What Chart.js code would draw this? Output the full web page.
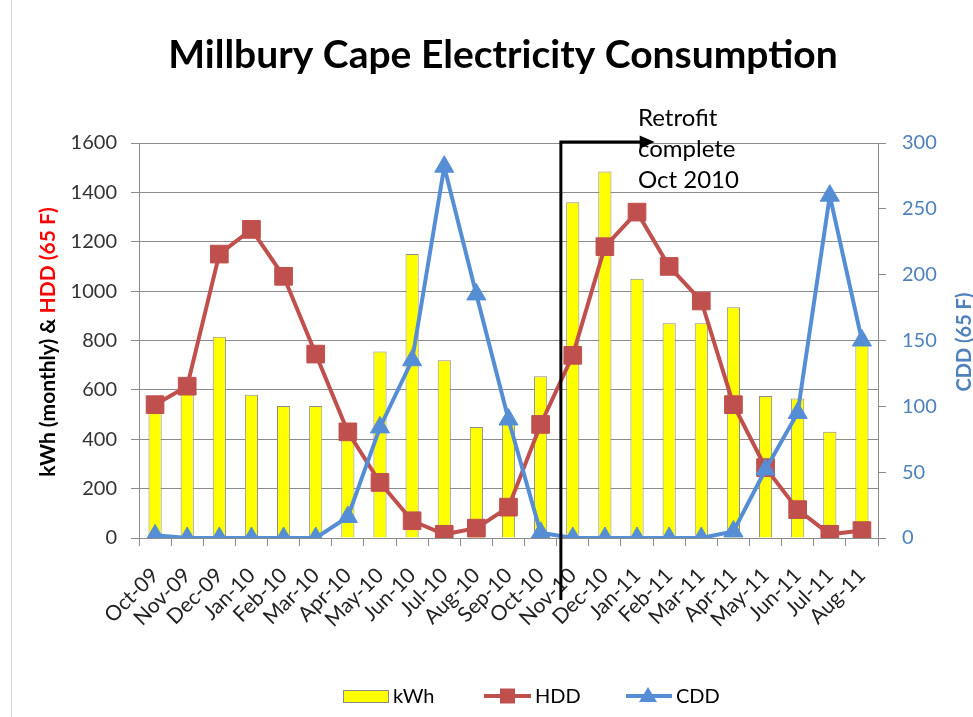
<!DOCTYPE html>
<html lang="en">
<head>
    <meta charset="UTF-8">
    <title>Millbury Cape Electricity Consumption</title>
    <script src="https://cdn.jsdelivr.net/npm/chart.js"></script>
    <style>
        html, body { margin: 0; padding: 0; background: #fff; }
        #chart { display: block; }
    </style>
</head>
<body>
    <canvas id="chart" width="973" height="717"></canvas>

    <script>
        // Monthly data, Oct 2009 - Aug 2011
        const months = ['Oct-09', 'Nov-09', 'Dec-09', 'Jan-10', 'Feb-10', 'Mar-10', 'Apr-10', 'May-10',
                        'Jun-10', 'Jul-10', 'Aug-10', 'Sep-10', 'Oct-10', 'Nov-10', 'Dec-10', 'Jan-11',
                        'Feb-11', 'Mar-11', 'Apr-11', 'May-11', 'Jun-11', 'Jul-11', 'Aug-11'];
        const kwh = [530, 590, 815, 580, 535, 535, 420, 755, 1150, 720, 450, 480,
                     655, 1360, 1485, 1050, 870, 870, 935, 575, 565, 430, 790];
        const hdd = [540, 615, 1150, 1250, 1060, 745, 430, 225, 70, 15, 40, 125,
                     460, 740, 1180, 1320, 1100, 960, 540, 285, 115, 15, 30];
        const cdd = [2, 0, 0, 0, 0, 0, 16, 84, 135, 282, 185, 90,
                     4, 0, 0, 0, 0, 0, 5, 52, 95, 260, 150];

        // axis ticks
        const leftTicks = [0, 200, 400, 600, 800, 1000, 1200, 1400, 1600];
        const rightTicks = [0, 50, 100, 150, 200, 250, 300];

        // retrofit marker sits between Oct-10 and Nov-10
        const retrofitAt = 12.63;
        const retrofitText = ['Retrofit', 'complete', 'Oct 2010'];

        const FONT = 'Lato, "Open Sans", sans-serif';
        const GRID = '#8c8c8c';
        const RED = '#c0504d';
        const BLUE = '#558ed5';

        function setTicks(list) {
            return function (scale) {
                scale.ticks = list.map(v => ({ value: v }));
            };
        }

        // titles, retrofit arrow, legend and frame line
        const decorations = {
            id: 'decorations',
            beforeDraw(chart) {
                const ctx = chart.ctx;
                ctx.save();
                ctx.strokeStyle = '#d4d4d4';
                ctx.lineWidth = 1;
                ctx.beginPath();
                ctx.moveTo(11.5, 0);
                ctx.lineTo(11.5, 717);
                ctx.stroke();
                ctx.restore();
            },
            afterDraw(chart) {
                const ctx = chart.ctx;
                const area = chart.chartArea;
                const x = chart.scales.x;

                ctx.save();

                // main title
                ctx.fillStyle = '#000';
                ctx.font = 'bold 39px ' + FONT;
                ctx.textAlign = 'center';
                ctx.textBaseline = 'alphabetic';
                ctx.fillText('Millbury Cape Electricity Consumption', 503, 68);

                // left axis title, two colours
                ctx.save();
                ctx.translate(55, 342);
                ctx.rotate(-Math.PI / 2);
                ctx.font = 'bold 21px ' + FONT;
                const partA = 'kWh (monthly) & ';
                const partB = 'HDD (65 F)';
                const wA = ctx.measureText(partA).width;
                const wB = ctx.measureText(partB).width;
                ctx.textAlign = 'left';
                ctx.fillStyle = '#000';
                ctx.fillText(partA, -(wA + wB) / 2, 0);
                ctx.fillStyle = '#ff0000';
                ctx.fillText(partB, -(wA + wB) / 2 + wA, 0);
                ctx.restore();

                // right axis title
                ctx.save();
                ctx.translate(971, 342);
                ctx.rotate(-Math.PI / 2);
                ctx.font = 'bold 20px ' + FONT;
                ctx.textAlign = 'center';
                ctx.fillStyle = '#4f81bd';
                ctx.fillText('CDD (65 F)', 0, 0);
                ctx.restore();

                // retrofit line and arrow
                const lx = x.getPixelForValue(retrofitAt);
                const ly = area.top - 1;
                const tipX = x.getPixelForValue(15.55);
                ctx.strokeStyle = '#000';
                ctx.lineWidth = 3;
                ctx.beginPath();
                ctx.moveTo(lx, area.bottom + 62);
                ctx.lineTo(lx, ly);
                ctx.lineTo(tipX - 12, ly);
                ctx.stroke();
                ctx.fillStyle = '#000';
                ctx.beginPath();
                ctx.moveTo(tipX, ly);
                ctx.lineTo(tipX - 15, ly - 6.5);
                ctx.lineTo(tipX - 15, ly + 6.5);
                ctx.closePath();
                ctx.fill();

                ctx.font = '24px ' + FONT;
                ctx.textAlign = 'left';
                retrofitText.forEach((t, i) => ctx.fillText(t, 638, 126 + i * 31));

                // legend
                const ly2 = 696;
                ctx.font = '20px ' + FONT;
                ctx.textBaseline = 'middle';
                ctx.fillStyle = '#ffff00';
                ctx.fillRect(343, ly2 - 6, 45, 12);
                ctx.strokeStyle = GRID;
                ctx.lineWidth = 1;
                ctx.strokeRect(343.5, ly2 - 5.5, 45, 12);
                ctx.fillStyle = '#000';
                ctx.fillText('kWh', 393, ly2 + 1);

                ctx.strokeStyle = RED;
                ctx.lineWidth = 4;
                ctx.beginPath();
                ctx.moveTo(484, ly2);
                ctx.lineTo(531, ly2);
                ctx.stroke();
                ctx.fillStyle = RED;
                ctx.fillRect(500, ly2 - 7.5, 15, 15);
                ctx.fillStyle = '#000';
                ctx.fillText('HDD', 535, ly2 + 1);

                ctx.strokeStyle = BLUE;
                ctx.beginPath();
                ctx.moveTo(626, ly2);
                ctx.lineTo(672, ly2);
                ctx.stroke();
                ctx.fillStyle = BLUE;
                ctx.beginPath();
                ctx.moveTo(648, ly2 - 9);
                ctx.lineTo(657, ly2 + 6);
                ctx.lineTo(639, ly2 + 6);
                ctx.closePath();
                ctx.fill();
                ctx.fillStyle = '#000';
                ctx.fillText('CDD', 676, ly2 + 1);

                ctx.restore();
            }
        };

        new Chart(document.getElementById('chart'), {
            type: 'bar',
            data: {
                labels: months,
                datasets: [
                    {
                        type: 'line',
                        label: 'CDD',
                        data: cdd,
                        yAxisID: 'y1',
                        borderColor: BLUE,
                        backgroundColor: BLUE,
                        borderWidth: 4,
                        pointStyle: 'triangle',
                        pointRadius: 11,
                        pointBorderWidth: 1,
                        tension: 0,
                        order: 0
                    },
                    {
                        type: 'line',
                        label: 'HDD',
                        data: hdd,
                        yAxisID: 'y',
                        borderColor: RED,
                        backgroundColor: RED,
                        borderWidth: 4,
                        pointStyle: 'rect',
                        pointRadius: 12.5,
                        pointBorderWidth: 1,
                        tension: 0,
                        order: 1
                    },
                    {
                        label: 'kWh',
                        data: kwh,
                        yAxisID: 'y',
                        backgroundColor: '#ffff00',
                        borderColor: GRID,
                        borderWidth: 1,
                        categoryPercentage: 1,
                        barPercentage: 0.41,
                        order: 2
                    }
                ]
            },
            options: {
                responsive: false,
                animation: false,
                devicePixelRatio: 1,
                layout: { padding: { top: 143, left: 0, right: 0, bottom: 0 } },
                plugins: {
                    legend: { display: false },
                    tooltip: { enabled: false },
                    title: { display: false }
                },
                scales: {
                    x: {
                        offset: true,
                        grid: {
                            offset: true,
                            drawOnChartArea: false,
                            drawTicks: true,
                            tickLength: 8,
                            color: GRID
                        },
                        border: { color: GRID, width: 1 },
                        ticks: {
                            autoSkip: false,
                            minRotation: 45,
                            maxRotation: 45,
                            padding: 17,
                            color: '#222',
                            font: { family: FONT, size: 21 }
                        },
                        afterFit(scale) { scale.height = 179; }
                    },
                    y: {
                        position: 'left',
                        min: 0,
                        max: 1600,
                        afterBuildTicks: setTicks(leftTicks),
                        grid: { color: GRID, tickLength: 8 },
                        border: { color: GRID, width: 1 },
                        ticks: {
                            padding: 14,
                            color: '#333',
                            font: { family: FONT, size: 20 },
                            callback: v => String(v)
                        },
                        afterFit(scale) { scale.width = 139; }
                    },
                    y1: {
                        position: 'right',
                        min: 0,
                        max: 300,
                        afterBuildTicks: setTicks(rightTicks),
                        grid: { drawOnChartArea: false, color: GRID, tickLength: 8 },
                        border: { color: GRID, width: 1 },
                        ticks: {
                            padding: 16,
                            color: '#4f81bd',
                            font: { family: FONT, size: 20 },
                            callback: v => String(v)
                        },
                        afterFit(scale) { scale.width = 95; }
                    }
                }
            },
            plugins: [decorations]
        });
    </script>
</body>
</html>
